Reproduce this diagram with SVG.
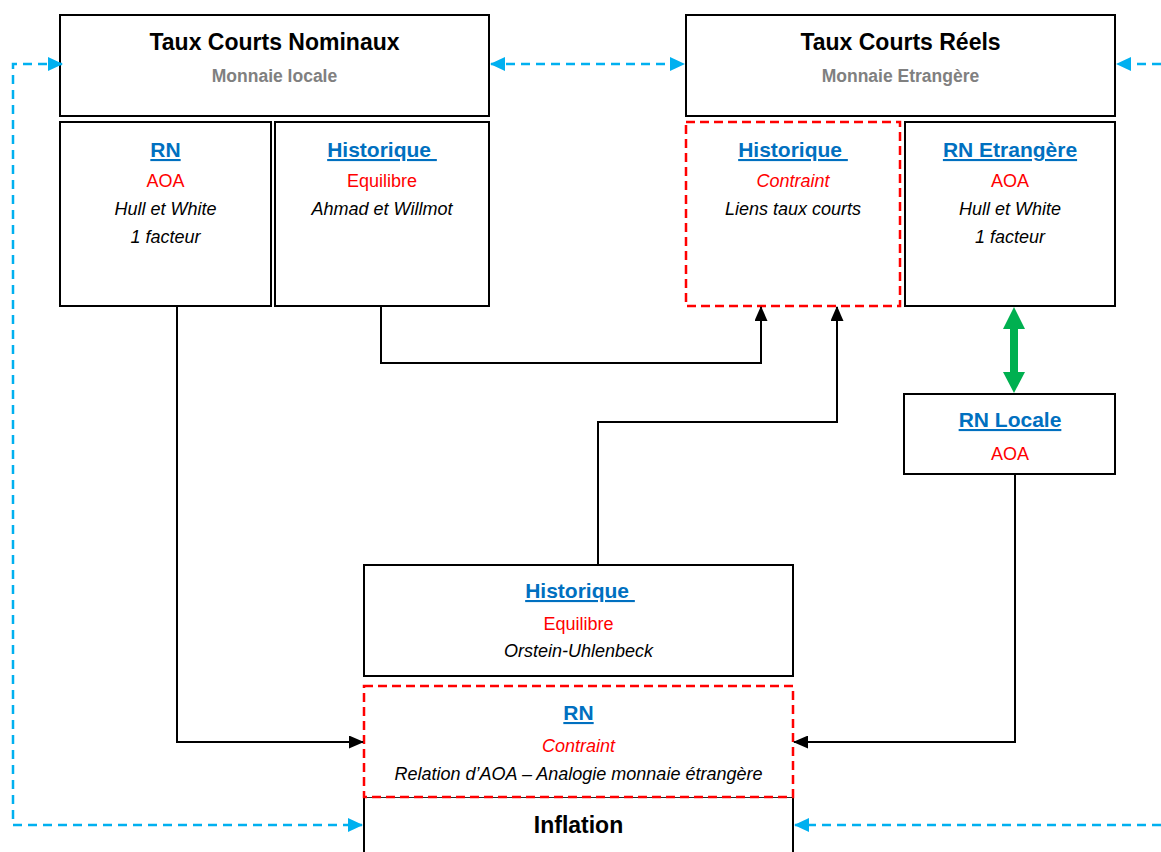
<svg xmlns="http://www.w3.org/2000/svg" width="1161" height="852" viewBox="0 0 1161 852">
  <style>
    text { font-family: "Liberation Sans", Arial, sans-serif; text-anchor: middle; }
    .box { fill: #ffffff; stroke: #000000; stroke-width: 2; }
    .thin { fill: none; stroke: #595959; stroke-width: 1.2; }
    .constr { fill: #ffffff; stroke: #ff0000; stroke-width: 2.5; stroke-dasharray: 9 5; }
    .title { font-size: 23px; font-weight: bold; fill: #000000; }
    .sub { font-size: 17.5px; font-weight: bold; fill: #808080; }
    .head { font-size: 21px; font-weight: bold; fill: #0070c0; text-decoration: underline; }
    .red { font-size: 18px; fill: #ff0000; }
    .redi { font-size: 18px; fill: #ff0000; font-style: italic; }
    .note { font-size: 18px; fill: #000000; font-style: italic; }
    .link { fill: none; stroke: #000000; stroke-width: 2; }
    .bridge { fill: none; stroke: #00b0f0; stroke-width: 2.5; stroke-dasharray: 9 6; }
  </style>
  <defs>
    <marker id="blueHead" markerUnits="userSpaceOnUse" markerWidth="15" markerHeight="14" viewBox="0 0 15 14" refX="14" refY="7" orient="auto-start-reverse">
      <path d="M0,0 L15,7 L0,14 Z" fill="#00b0f0"/>
    </marker>
    <marker id="blackHead" markerUnits="userSpaceOnUse" markerWidth="15" markerHeight="13" viewBox="0 0 15 13" refX="14" refY="6.5" orient="auto">
      <path d="M0,0 L15,6.5 L0,13 Z" fill="#000000"/>
    </marker>
  </defs>

  <rect width="1161" height="852" fill="#ffffff"/>

  <!-- Nominal short rates, local currency -->
  <g id="taux-courts-nominaux">
    <rect class="box" x="60" y="15" width="429" height="101"/>
    <text class="title" x="274.5" y="50">Taux Courts Nominaux</text>
    <text class="sub" x="274.5" y="82">Monnaie locale</text>
  </g>
  <g id="nominaux-rn">
    <rect class="box" x="60" y="122" width="211" height="184"/>
    <text class="head" x="165.5" y="157">RN</text>
    <text class="red" x="165.5" y="187">AOA</text>
    <text class="note" x="165.5" y="215">Hull et White</text>
    <text class="note" x="165.5" y="243">1 facteur</text>
  </g>
  <g id="nominaux-historique">
    <rect class="box" x="275" y="122" width="214" height="184"/>
    <text class="head" x="382" y="157" xml:space="preserve">Historique </text>
    <text class="red" x="382" y="187">Equilibre</text>
    <text class="note" x="382" y="215">Ahmad et Willmot</text>
  </g>

  <!-- Real short rates, foreign currency -->
  <g id="taux-courts-reels">
    <rect class="box" x="686" y="15" width="429" height="101"/>
    <text class="title" x="900.5" y="50">Taux Courts Réels</text>
    <text class="sub" x="900.5" y="82">Monnaie Etrangère</text>
  </g>
  <g id="reels-historique">
    <rect class="constr" x="686" y="122" width="214" height="184"/>
    <text class="head" x="793" y="157" xml:space="preserve">Historique </text>
    <text class="redi" x="793" y="187">Contraint</text>
    <text class="note" x="793" y="215">Liens taux courts</text>
  </g>
  <g id="reels-rn-etrangere">
    <rect class="box" x="905" y="122" width="210" height="184"/>
    <text class="head" x="1010" y="157">RN Etrangère</text>
    <text class="red" x="1010" y="187">AOA</text>
    <text class="note" x="1010" y="215">Hull et White</text>
    <text class="note" x="1010" y="243">1 facteur</text>
  </g>

  <!-- Local risk-neutral -->
  <g id="rn-locale">
    <rect class="box" x="904" y="394" width="211" height="80"/>
    <text class="head" x="1010" y="427">RN Locale</text>
    <text class="red" x="1010" y="460">AOA</text>
  </g>

  <!-- Inflation stack -->
  <g id="inflation-historique">
    <rect class="box" x="364" y="565" width="429" height="111"/>
    <text class="head" x="580" y="598" xml:space="preserve">Historique </text>
    <text class="red" x="578.5" y="630">Equilibre</text>
    <text class="note" x="578.5" y="657">Orstein-Uhlenbeck</text>
  </g>
  <g id="inflation">
    <rect class="box" x="364" y="797" width="429" height="80"/>
    <line class="thin" x1="364" y1="797" x2="793" y2="797"/>
    <text class="title" x="578.5" y="833">Inflation</text>
  </g>
  <g id="inflation-rn">
    <rect class="constr" x="364" y="686" width="429" height="111"/>
    <text class="head" x="578.5" y="720">RN</text>
    <text class="redi" x="578.5" y="752">Contraint</text>
    <text class="note" x="578.5" y="780">Relation d’AOA – Analogie monnaie étrangère</text>
  </g>

  <!-- Connectors -->
  <g id="connectors">
    <path class="bridge" d="M491,64 H684" marker-start="url(#blueHead)" marker-end="url(#blueHead)"/>
    <path class="bridge" d="M62,64 H13 V825 H362" marker-start="url(#blueHead)" marker-end="url(#blueHead)"/>
    <path class="bridge" d="M1161,64 H1117" marker-end="url(#blueHead)"/>
    <path class="bridge" d="M1161,825 H795" marker-end="url(#blueHead)"/>

    <path class="link" d="M177,306 V742 H363" marker-end="url(#blackHead)"/>
    <path class="link" d="M381,306 V363 H761 V307" marker-end="url(#blackHead)"/>
    <path class="link" d="M598,565 V422 H837 V307" marker-end="url(#blackHead)"/>
    <path class="link" d="M1015,474 V742 H794" marker-end="url(#blackHead)"/>

    <polygon fill="#00b050" points="1014,307 1025,329 1018,329 1018,372 1025,372 1014,393 1003,372 1010,372 1010,329 1003,329"/>
  </g>
</svg>
